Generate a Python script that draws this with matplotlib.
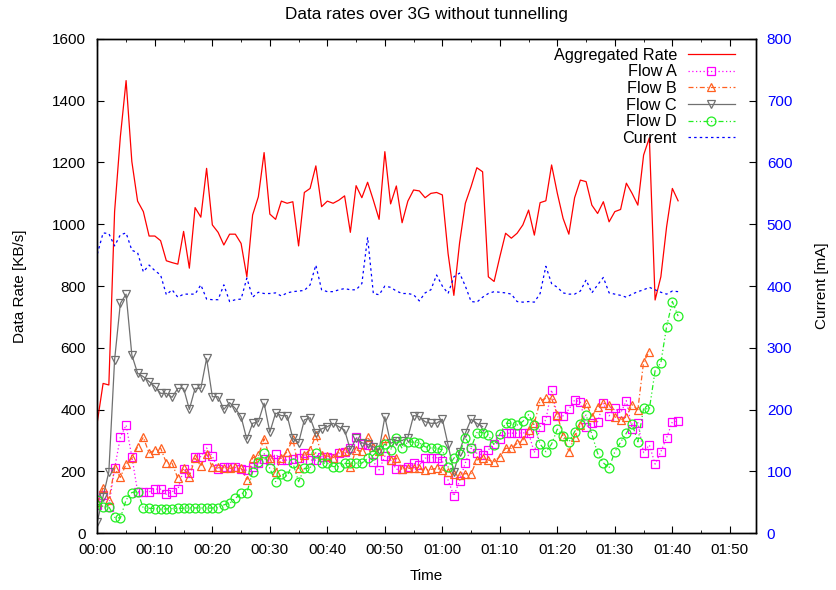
import numpy as np
import matplotlib
matplotlib.use("Agg")
import matplotlib.pyplot as plt
from matplotlib.ticker import MultipleLocator

plt.rcParams['font.family'] = ['Liberation Sans', 'DejaVu Sans']
plt.rcParams['font.size'] = 11

# ── DATA (one sample per minute) ─────────────────────────────
aggregated = [361, 485, 480, 1041, 1283, 1465, 1203, 1075, 1041, 962,
              962, 947, 882, 876, 871, 977, 858, 1054, 1023, 1181,
              998, 974, 933, 968, 968, 938, 830, 1030, 1089, 1232,
              1033, 1016, 1075, 1068, 1073, 930, 1103, 1116, 1189, 1057,
              1075, 1068, 1078, 1092, 974, 1125, 1086, 1136, 1078, 1016,
              1235, 1066, 1124, 1005, 1075, 1111, 1108, 1086, 1100, 1103,
              1095, 905, 770, 940, 1068, 1122, 1183, 1170, 830, 815,
              895, 971, 955, 971, 998, 1046, 965, 1070, 1076, 1192,
              1100, 1019, 968, 1086, 1143, 1138, 1062, 1035, 1073, 1008,
              1041, 1048, 1133, 1100, 1062, 1224, 1280, 755, 830, 992,
              1116, 1076]

current = [452, 486, 485, 465, 483, 486, 458, 454, 423, 434,
           425, 418, 386, 394, 382, 387, 387, 387, 402, 379,
           378, 378, 402, 375, 378, 379, 413, 382, 390, 388,
           388, 389, 384, 389, 391, 392, 393, 402, 434, 394,
           391, 391, 394, 396, 394, 394, 404, 479, 388, 386,
           400, 398, 392, 388, 388, 386, 376, 389, 394, 418,
           400, 388, 415, 421, 400, 375, 374, 382, 388, 391,
           390, 389, 387, 375, 374, 375, 374, 388, 432, 404,
           398, 389, 387, 387, 392, 410, 389, 402, 414, 389,
           387, 385, 382, 387, 391, 394, 398, 394, 390, 387,
           392, 391]

flow_a = [92, 124, 86, 210, 311, 350, 248, 135, 135, 134,
          143, 143, 126, 135, 142, 207, 194, 248, 248, 276,
          249, 207, 213, 213, 213, 207, 204, 213, 226, 240,
          237, 256, 237, 237, 240, 245, 259, 237, 237, 248,
          248, 245, 259, 264, 275, 312, 290, 285, 232, 205,
          250, 237, 207, 207, 213, 226, 220, 243, 245, 245,
          234, 172, 121, 170, 228, 275, 259, 253, 270, 290,
          304, 324, 324, 324, 325, 325, 261, 345, 367, 464,
          380, 380, 401, 431, 425, 345, 356, 361, 421, 380,
          404, 389, 429, 337, 358, 261, 286, 224, 264, 309,
          361, 363]

flow_b = [100, 146, 108, 210, 181, 224, 243, 280, 311, 259,
          270, 276, 228, 227, 178, 210, 183, 243, 218, 257,
          213, 213, 210, 210, 213, 210, 174, 244, 252, 306,
          243, 199, 243, 264, 306, 210, 255, 270, 318, 255,
          250, 245, 264, 265, 216, 270, 265, 312, 280, 265,
          307, 237, 243, 207, 210, 210, 210, 205, 207, 210,
          205, 199, 193, 188, 193, 193, 237, 245, 237, 232,
          248, 275, 275, 291, 302, 334, 356, 429, 437, 437,
          383, 315, 264, 313, 350, 423, 377, 410, 421, 416,
          377, 366, 377, 416, 400, 555, 588]

flow_c = [38, 119, 199, 561, 744, 774, 577, 518, 507, 491,
          475, 453, 453, 440, 469, 469, 401, 469, 469, 566,
          442, 442, 401, 423, 404, 377, 304, 356, 361, 421,
          327, 389, 381, 381, 307, 293, 367, 374, 323, 338,
          345, 356, 345, 334, 270, 307, 293, 288, 280, 270,
          377, 291, 300, 300, 310, 381, 378, 361, 356, 356,
          369, 286, 199, 264, 324, 369, 356, 345]

flow_d = [108, 86, 86, 52, 49, 108, 132, 135, 81, 81,
          80, 78, 79, 80, 81, 81, 82, 82, 82, 81,
          82, 83, 92, 97, 113, 129, 131, 199, 232, 259,
          210, 167, 192, 185, 228, 167, 210, 211, 261, 227,
          227, 216, 216, 226, 226, 227, 227, 243, 253, 270,
          289, 270, 307, 275, 296, 295, 293, 280, 276, 276,
          270, 214, 243, 258, 310, 276, 326, 326, 318, 286,
          321, 356, 356, 350, 362, 384, 350, 289, 264, 289,
          337, 315, 295, 329, 354, 383, 321, 259, 228, 212,
          264, 295, 324, 354, 296, 404, 402, 526, 552, 669,
          750, 703]

tick_minutes = [0, 10, 20, 30, 40, 50, 60, 70, 80, 90, 100, 110]
tick_labels = ["00:00", "00:10", "00:20", "00:30", "00:40", "00:50",
               "01:00", "01:10", "01:20", "01:30", "01:40", "01:50"]

# ── PLOT ─────────────────────────────────────────────────────
fig = plt.figure(figsize=(8.37, 5.90), dpi=100)
ax = fig.add_axes([0.1163, 0.0961, 0.7866, 0.838])
ax2 = ax.twinx()

ms = 6.4
h_agg, = ax.plot(np.arange(len(aggregated)), aggregated, color="#ff0000",
                 lw=0.9, label="Aggregated Rate")
h_a, = ax.plot(np.arange(len(flow_a)), flow_a, color="#ff00ff", lw=0.9,
               ls=(0, (1, 2)), marker="s", ms=ms, mfc="none", mew=0.9,
               label="Flow A")
h_b, = ax.plot(np.arange(len(flow_b)), flow_b, color="#ff6020", lw=0.9,
               ls=(0, (4, 2, 1, 2)), marker="^", ms=ms, mfc="none", mew=0.9,
               label="Flow B")
h_c, = ax.plot(np.arange(len(flow_c)), flow_c, color="#707070", lw=0.9,
               marker="v", ms=ms, mfc="none", mew=0.9, label="Flow C")
h_d, = ax.plot(np.arange(len(flow_d)), flow_d, color="#22ee22", lw=0.9,
               ls=(0, (4, 2, 1, 2, 1, 2)), marker="o", ms=ms, mfc="none",
               mew=0.9, label="Flow D")
h_cur, = ax2.plot(np.arange(len(current)), current, color="#0000ff", lw=0.9,
                  ls=(0, (2, 2.5)), label="Current")

ax.set_xlim(0, 114.5)
ax.set_ylim(0, 1600)
ax2.set_ylim(0, 800)

ax.set_xticks(tick_minutes)
ax.set_xticklabels(tick_labels)
ax.xaxis.set_minor_locator(MultipleLocator(5))
ax.yaxis.set_major_locator(MultipleLocator(200))
ax2.yaxis.set_major_locator(MultipleLocator(100))

ax.tick_params(axis="x", which="both", direction="in", top=True, pad=7)
ax.tick_params(axis="x", which="major", length=5)
ax.tick_params(axis="x", which="minor", length=2.5)
ax.tick_params(axis="y", direction="in", length=5, pad=8, right=False)
ax2.tick_params(axis="y", direction="in", length=5, pad=8,
                labelcolor="#0000ff", colors="black")
for lbl in ax2.get_yticklabels():
    lbl.set_color("#0000ff")

for sp in list(ax.spines.values()) + list(ax2.spines.values()):
    sp.set_linewidth(1.0)

ax.set_title("Data rates over 3G without tunnelling", pad=14, fontsize=12.3)
ax.set_xlabel("Time")
ax.xaxis.set_label_coords(0.5, -0.072)
ax.set_ylabel("Data Rate [KB/s]")
ax.yaxis.set_label_coords(-0.107, 0.5)
ax2.set_ylabel("Current [mA]")
ax2.yaxis.set_label_coords(1.09, 0.5)

ax2.legend(handles=[h_agg, h_a, h_b, h_c, h_d, h_cur],
           loc="upper right", bbox_to_anchor=(0.968, 0.982),
           frameon=False, markerfirst=False, numpoints=1, fontsize=11.7,
           handlelength=2.9, handletextpad=0.65, labelspacing=0.10,
           borderpad=0, borderaxespad=0)

fig.savefig("out.png", dpi=100)
